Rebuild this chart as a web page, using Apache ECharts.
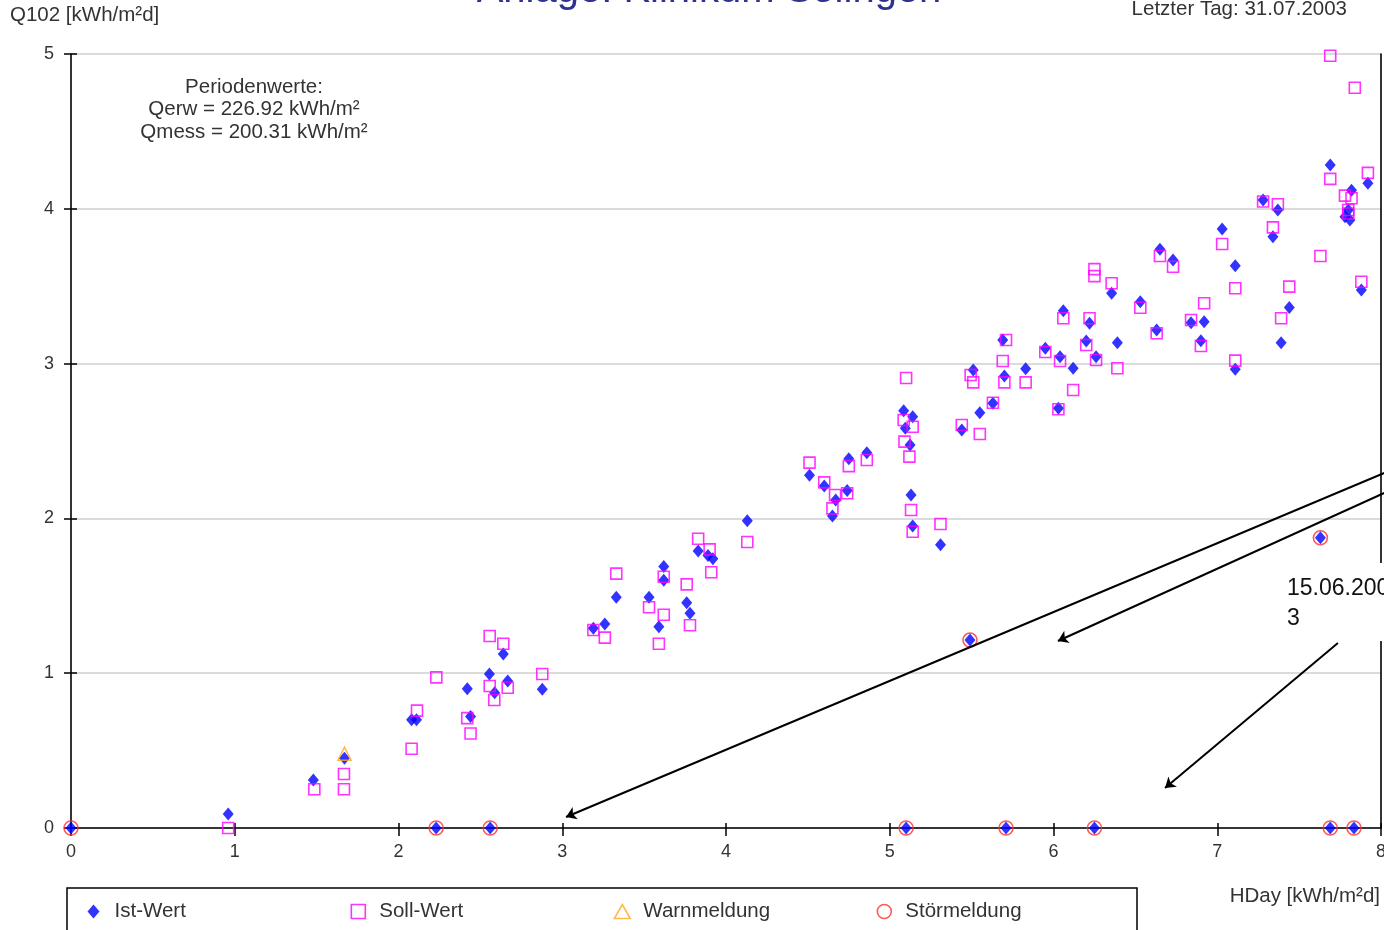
<!DOCTYPE html>
<html>
<head>
<meta charset="utf-8">
<title>Anlage: Klinikum Solingen</title>
<script src="https://cdn.jsdelivr.net/npm/echarts@6/dist/echarts.min.js"></script>
<style>
  html, body { margin: 0; padding: 0; background: #fff; }
  #chart { width: 1384px; height: 930px; }
</style>
</head>
<body>
<div id="chart"></div>
<script>
// Axis ranges (HDay on x, Q102 on y)
const xTicks = [0, 1, 2, 3, 4, 5, 6, 7, 8];
const yTicks = [0, 1, 2, 3, 4, 5];

// Measured daily yield [HDay, Q102]
const istWert = [
  [0, 0], [0.96, 0.09], [1.48, 0.31], [1.67, 0.45],
  [2.08, 0.70], [2.11, 0.70], [2.23, 0], [2.42, 0.90], [2.44, 0.72],
  [2.555, 0.995], [2.56, 0], [2.587, 0.874], [2.64, 1.124], [2.667, 0.95], [2.878, 0.896],
  [3.19, 1.29], [3.26, 1.318], [3.33, 1.49], [3.53, 1.49], [3.59, 1.30], [3.62, 1.69],
  [3.62, 1.60], [3.76, 1.455], [3.78, 1.387], [3.83, 1.79], [3.89, 1.76], [3.92, 1.74],
  [4.13, 1.985], [4.51, 2.278], [4.60, 2.209], [4.65, 2.016], [4.67, 2.119], [4.74, 2.18],
  [4.75, 2.386], [4.86, 2.424],
  [5.085, 2.696], [5.095, 2.582], [5.10, 0], [5.124, 2.474], [5.13, 2.151], [5.14, 2.657],
  [5.14, 1.951], [5.31, 1.83], [5.44, 2.571], [5.49, 1.214], [5.51, 2.959], [5.55, 2.683],
  [5.63, 2.744], [5.69, 3.152], [5.70, 2.92], [5.71, 0], [5.83, 2.967], [5.95, 3.099],
  [6.03, 2.711], [6.04, 3.045], [6.06, 3.342], [6.12, 2.97], [6.20, 3.146], [6.22, 3.26],
  [6.25, 0], [6.26, 3.045], [6.355, 3.454], [6.39, 3.135], [6.53, 3.40],
  [6.63, 3.217], [6.65, 3.738], [6.73, 3.669], [6.84, 3.264], [6.90, 3.148], [6.92, 3.271],
  [7.03, 3.869], [7.11, 3.632], [7.11, 2.963], [7.28, 4.057], [7.34, 3.82], [7.37, 3.992],
  [7.39, 3.135], [7.44, 3.363], [7.63, 1.875], [7.69, 4.283], [7.69, 0],
  [7.78, 3.949], [7.80, 3.992], [7.81, 3.928], [7.82, 4.12], [7.835, 0], [7.88, 3.475], [7.92, 4.165]
];

// Expected daily yield [HDay, Q102]
const sollWert = [
  [0.96, 0], [1.486, 0.25], [1.667, 0.25], [1.667, 0.349],
  [2.08, 0.512], [2.113, 0.758], [2.231, 0.973], [2.42, 0.71], [2.44, 0.61], [2.557, 1.24],
  [2.557, 0.917], [2.585, 0.827], [2.64, 1.19], [2.667, 0.906], [2.878, 0.995],
  [3.19, 1.279], [3.26, 1.23], [3.33, 1.643], [3.53, 1.426], [3.59, 1.19], [3.62, 1.623],
  [3.62, 1.378], [3.76, 1.574], [3.78, 1.31], [3.83, 1.869], [3.90, 1.80], [3.91, 1.652],
  [4.13, 1.848], [4.51, 2.36], [4.60, 2.233], [4.65, 2.065], [4.666, 2.151], [4.74, 2.162],
  [4.75, 2.338], [4.86, 2.377],
  [5.085, 2.636], [5.09, 2.496], [5.10, 2.907], [5.12, 2.399], [5.13, 2.054], [5.14, 2.592],
  [5.14, 1.914], [5.31, 1.964], [5.44, 2.603], [5.494, 2.926], [5.51, 2.879], [5.55, 2.545],
  [5.63, 2.747], [5.69, 3.017], [5.70, 2.879], [5.71, 3.152], [5.83, 2.879], [5.95, 3.075],
  [6.03, 2.705], [6.04, 3.017], [6.06, 3.293], [6.12, 2.829], [6.20, 3.12], [6.22, 3.293],
  [6.25, 3.61], [6.25, 3.565], [6.26, 3.023], [6.355, 3.519], [6.39, 2.97], [6.53, 3.361],
  [6.63, 3.196], [6.65, 3.695], [6.73, 3.626], [6.84, 3.282], [6.90, 3.114], [6.92, 3.39],
  [7.03, 3.773], [7.11, 3.487], [7.11, 3.019], [7.28, 4.047], [7.34, 3.88], [7.37, 4.029],
  [7.39, 3.293], [7.44, 3.497], [7.63, 3.695], [7.69, 4.193], [7.69, 4.989], [7.78, 4.085],
  [7.80, 3.992], [7.80, 3.97], [7.82, 4.068], [7.84, 4.782], [7.88, 3.529], [7.92, 4.232]
];

// Days flagged with a warning / a fault
const warnmeldung = [[1.67, 0.48]];
const stoermeldung = [
  [0, 0], [2.23, 0], [2.56, 0], [5.10, 0], [5.49, 1.214], [5.71, 0],
  [6.25, 0], [7.63, 1.875], [7.69, 0], [7.835, 0]
];

// Pointer lines from the date note [from, to]
const hinweisPfeile = [
  [[8.02, 2.293], [3.023, 0.071]],
  [[8.02, 2.164], [6.027, 1.208]],
  [[7.737, 1.195], [6.681, 0.258]]
];

// Legend entries in display order
const legendNames = ['Ist-Wert', 'Soll-Wert', 'Warnmeldung', 'Störmeldung'];

const FONT = "'Liberation Sans', Arial, Helvetica, sans-serif";
const TXT = '#333333';

const C_IST = '#0000ff';
const C_SOLL = '#ff00ff';
const C_WARN = '#ffa820';
const C_STOER = '#ff3030';

const chart = echarts.init(document.getElementById('chart'), null, { renderer: 'canvas' });

const hollow = (c) => ({ color: 'rgba(255,255,255,0)', borderColor: c, borderWidth: 1.6 });

// Legend glyphs as paths so they keep their proportions
const legendIcons = {
  'Ist-Wert': { icon: 'path://M6,0L12,7L6,14L0,7Z', itemStyle: { color: C_IST, borderWidth: 0 } },
  'Soll-Wert': { icon: 'path://M0,0H14V14H0Z', itemStyle: hollow(C_SOLL) },
  'Warnmeldung': { icon: 'path://M8,0L16,14H0Z', itemStyle: hollow(C_WARN) },
  'Störmeldung': { icon: 'path://M7,0A7,7 0 1,1 6.99,0Z', itemStyle: hollow(C_STOER) }
};

const legends = legendNames.map((name, i) => ({
  left: 87.5 + i * 263, top: 901,
  padding: 0,
  itemWidth: 32, itemHeight: 14, itemGap: 0,
  symbolKeepAspect: true,
  selectedMode: false,
  textStyle: { color: TXT, fontSize: 20.5, fontFamily: FONT },
  data: [Object.assign({ name: name }, legendIcons[name])]
}));

const option = {
  backgroundColor: '#ffffff',
  animation: false,
  textStyle: { fontFamily: FONT },
  grid: { left: 71, right: 3, top: 54, bottom: 102, containLabel: false, outerBoundsMode: 'none' },
  xAxis: [
    {
      type: 'value', min: xTicks[0], max: xTicks[xTicks.length - 1], interval: 1,
      position: 'bottom',
      axisLine: { show: true, onZero: false, lineStyle: { color: '#000', width: 1.6 } },
      axisTick: { show: true, inside: false, length: 8, lineStyle: { color: '#000', width: 1.5 } },
      axisLabel: { color: TXT, fontSize: 18, fontFamily: FONT, margin: 15 },
      splitLine: { show: false }
    },
    {
      type: 'value', min: xTicks[0], max: xTicks[xTicks.length - 1], interval: 1,
      position: 'bottom',
      axisLine: { show: false },
      axisTick: { show: true, inside: true, length: 5, lineStyle: { color: '#000', width: 1.5 } },
      axisLabel: { show: false },
      splitLine: { show: false }
    }
  ],
  yAxis: [
    {
      type: 'value', min: yTicks[0], max: yTicks[yTicks.length - 1], interval: 1,
      position: 'left',
      axisLine: { show: true, onZero: false, lineStyle: { color: '#000', width: 1.6 } },
      axisTick: { show: true, inside: false, length: 7, lineStyle: { color: '#000', width: 1.5 } },
      axisLabel: { color: TXT, fontSize: 18, fontFamily: FONT, margin: 17 },
      splitLine: { show: true, lineStyle: { color: '#cfcfcf', width: 1.5 } }
    },
    {
      type: 'value', min: yTicks[0], max: yTicks[yTicks.length - 1], interval: 1,
      position: 'right',
      axisLine: { show: true, onZero: false, lineStyle: { color: '#000', width: 1.6 } },
      axisTick: { show: false },
      axisLabel: { show: false },
      splitLine: { show: false }
    },
    {
      type: 'value', min: yTicks[0], max: yTicks[yTicks.length - 1], interval: 1,
      position: 'left',
      axisLine: { show: false },
      axisTick: { show: true, inside: true, length: 6, lineStyle: { color: '#000', width: 1.5 } },
      axisLabel: { show: false },
      splitLine: { show: false }
    }
  ],
  legend: legends,
  series: [
    {
      name: 'Störmeldung', type: 'scatter', data: stoermeldung, clip: false,
      symbol: 'circle', symbolSize: 14, z: 2,
      itemStyle: hollow(C_STOER),
      emphasis: { disabled: true }
    },
    {
      name: 'Ist-Wert', type: 'scatter', data: istWert, clip: false,
      symbol: 'diamond', symbolSize: [11, 13], z: 3,
      itemStyle: { color: C_IST },
      emphasis: { disabled: true }
    },
    {
      name: 'Soll-Wert', type: 'scatter', data: sollWert, clip: false,
      symbol: 'rect', symbolSize: 11, z: 4,
      itemStyle: hollow(C_SOLL),
      emphasis: { disabled: true }
    },
    {
      name: 'Warnmeldung', type: 'scatter', data: warnmeldung, clip: false,
      symbol: 'triangle', symbolSize: 13, z: 5,
      itemStyle: hollow(C_WARN),
      emphasis: { disabled: true }
    },
    {
      type: 'lines', coordinateSystem: 'cartesian2d', clip: false, silent: true, z: 6,
      symbol: ['none', 'arrow'], symbolSize: 10,
      lineStyle: { color: '#000', width: 2, opacity: 1, curveness: 0 },
      data: hinweisPfeile.map(c => ({ coords: c }))
    }
  ],
  graphic: [
    {
      type: 'text', x: 709, y: -9, z: 50,
      style: { text: 'Anlage: Klinikum Solingen', fill: '#2e3192', font: '40px ' + FONT, align: 'center', verticalAlign: 'middle' }
    },
    {
      type: 'text', x: 10, y: 15, z: 50,
      style: { text: 'Q102 [kWh/m²d]', fill: TXT, font: '20.5px ' + FONT, align: 'left', verticalAlign: 'middle' }
    },
    {
      type: 'text', x: 1347, y: 9, z: 50,
      style: { text: 'Letzter Tag: 31.07.2003', fill: TXT, font: '20.5px ' + FONT, align: 'right', verticalAlign: 'middle' }
    },
    {
      type: 'text', x: 254, y: 75.75, z: 50,
      style: {
        text: 'Periodenwerte:\nQerw = 226.92 kWh/m²\nQmess = 200.31 kWh/m²',
        fill: TXT, font: '20.5px ' + FONT, lineHeight: 22.5, align: 'center', verticalAlign: 'top'
      }
    },
    {
      type: 'text', x: 1380, y: 896, z: 50,
      style: { text: 'HDay [kWh/m²d]', fill: TXT, font: '20.5px ' + FONT, align: 'right', verticalAlign: 'middle' }
    },
    {
      // legend frame
      type: 'rect', z: 40,
      shape: { x: 67, y: 888, width: 1070, height: 60 },
      style: { fill: 'none', stroke: '#000', lineWidth: 1.5 }
    },
    {
      type: 'rect', z: 100,
      shape: { x: 1280, y: 563, width: 120, height: 78 },
      style: { fill: '#ffffff' }
    },
    {
      type: 'text', x: 1287, y: 574, z: 101,
      style: {
        text: '15.06.2003', fill: '#111', font: '23px ' + FONT, lineHeight: 30,
        width: 105, overflow: 'breakAll', align: 'left', verticalAlign: 'top'
      }
    }
  ]
};

chart.setOption(option);
</script>
</body>
</html>
